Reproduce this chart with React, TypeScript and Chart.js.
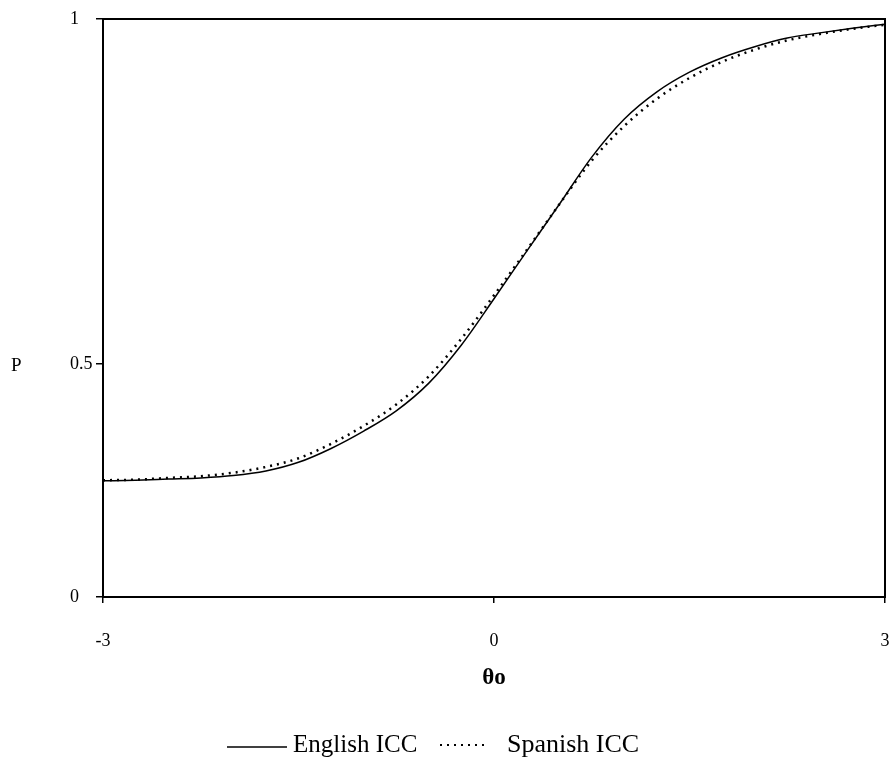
import React, { useEffect, useRef } from 'react';
import { Chart, registerables } from 'chart.js';

Chart.register(...registerables);

// ---- data ----
const thetaValues = [-3, -2.75, -2.5, -2.25, -2, -1.75, -1.5, -1.25, -1, -0.75, -0.5, -0.25, 0, 0.25, 0.5, 0.75, 1, 1.25, 1.5, 1.75, 2, 2.25, 2.5, 2.75, 3];
const englishICC = [0.201, 0.202, 0.204, 0.206, 0.210, 0.218, 0.233, 0.257, 0.287, 0.322, 0.370, 0.436, 0.516, 0.598, 0.679, 0.761, 0.827, 0.874, 0.908, 0.933, 0.952, 0.967, 0.976, 0.984, 0.991];
const spanishICC = [0.202, 0.203, 0.206, 0.209, 0.215, 0.225, 0.240, 0.265, 0.296, 0.333, 0.382, 0.447, 0.522, 0.600, 0.679, 0.755, 0.815, 0.862, 0.898, 0.926, 0.947, 0.963, 0.974, 0.983, 0.990];
const xTickValues = [-3, 0, 3];
const yTickValues = [0, 0.403, 1];
const yTickLabels = ['0', '0.5', '1'];
const yAxisTitle = 'P';
const xAxisTitle = 'θo';
const seriesNames = ['English ICC', 'Spanish ICC'];

const SERIF = '"Liberation Serif", "Times New Roman", Times, serif';

const decorPlugin = {
  id: 'decor',
  afterDraw(chart: any) {
    const { ctx, chartArea: a } = chart;
    ctx.save();
    // frame
    ctx.strokeStyle = '#000';
    ctx.lineWidth = 2;
    ctx.setLineDash([]);
    ctx.strokeRect(a.left, a.top, a.right - a.left, a.bottom - a.top);

    ctx.fillStyle = '#000';
    // y title
    ctx.font = `19px ${SERIF}`;
    ctx.textAlign = 'left';
    ctx.textBaseline = 'middle';
    ctx.fillText(yAxisTitle, 11, chart.scales.y.getPixelForValue(yTickValues[1]) + 2);

    // x title
    ctx.font = `bold 23px ${SERIF}`;
    ctx.textAlign = 'center';
    ctx.fillText(xAxisTitle, chart.scales.x.getPixelForValue(0), 678);

    // legend
    const ly = 745;
    ctx.lineWidth = 1.5;
    ctx.beginPath();
    ctx.moveTo(227, ly + 2);
    ctx.lineTo(287, ly + 2);
    ctx.stroke();
    ctx.font = `25px ${SERIF}`;
    ctx.textAlign = 'left';
    ctx.fillText(seriesNames[0], 293, ly);

    ctx.lineWidth = 2;
    ctx.setLineDash([2, 5]);
    ctx.beginPath();
    ctx.moveTo(440, ly);
    ctx.lineTo(488, ly);
    ctx.stroke();
    ctx.setLineDash([]);
    ctx.font = `26px ${SERIF}`;
    ctx.fillText(seriesNames[1], 507, ly);
    ctx.restore();
  },
};

export default function App() {
  const ref = useRef<HTMLCanvasElement>(null);

  useEffect(() => {
    const chart = new Chart(ref.current as HTMLCanvasElement, {
      type: 'line',
      data: {
        datasets: [
          {
            label: seriesNames[0],
            data: thetaValues.map((t, i) => ({ x: t, y: englishICC[i] })),
            borderColor: '#000',
            borderWidth: 1.5,
            pointRadius: 0,
            cubicInterpolationMode: 'monotone',
            fill: false,
          },
          {
            label: seriesNames[1],
            data: thetaValues.map((t, i) => ({ x: t, y: spanishICC[i] })),
            borderColor: '#000',
            borderWidth: 2.5,
            borderDash: [2, 5],
            pointRadius: 0,
            cubicInterpolationMode: 'monotone',
            fill: false,
          },
        ],
      },
      options: {
        animation: false,
        responsive: false,
        layout: { padding: { left: 70, top: 19, right: 8, bottom: 0 } },
        plugins: {
          legend: { display: false },
          tooltip: { enabled: false },
        },
        scales: {
          x: {
            type: 'linear',
            min: xTickValues[0],
            max: xTickValues[xTickValues.length - 1],
            afterBuildTicks: (scale: any) => {
              scale.ticks = xTickValues.map((v) => ({ value: v }));
            },
            afterFit: (scale: any) => {
              scale.height = 169;
              scale.paddingLeft = 0;
              scale.paddingRight = 0;
            },
            grid: {
              drawOnChartArea: false,
              drawTicks: true,
              tickLength: 6,
              color: '#000',
              lineWidth: 1.5,
            },
            border: { display: false },
            ticks: {
              color: '#000',
              padding: 27,
              maxRotation: 0,
              font: { family: SERIF, size: 18 },
            },
          },
          y: {
            type: 'linear',
            min: 0,
            max: 1,
            afterBuildTicks: (scale: any) => {
              scale.ticks = yTickValues.map((v) => ({ value: v }));
            },
            afterFit: (scale: any) => {
              scale.width = 33;
              scale.paddingTop = 0;
              scale.paddingBottom = 0;
            },
            grid: {
              drawOnChartArea: false,
              drawTicks: true,
              tickLength: 7,
              color: '#000',
              lineWidth: 1.5,
            },
            border: { display: false },
            ticks: {
              color: '#000',
              crossAlign: 'far',
              padding: 4,
              font: { family: SERIF, size: 18 },
              callback: (_v: any, i: number) => yTickLabels[i],
            },
          },
        },
      },
      plugins: [decorPlugin],
    } as any);
    return () => chart.destroy();
  }, []);

  return (
    <div style={{ position: 'absolute', left: 0, top: 0, width: 893, height: 766, background: '#fff' }}>
      <canvas ref={ref} width={893} height={766} style={{ display: 'block' }} />
    </div>
  );
}
